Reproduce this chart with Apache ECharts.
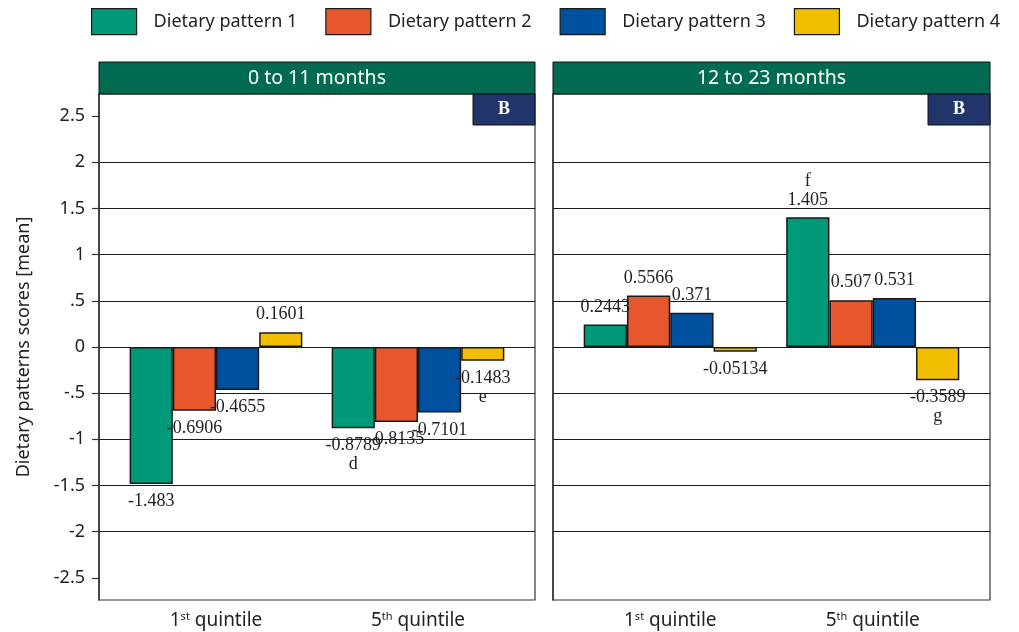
<!DOCTYPE html>
<html><head><meta charset="utf-8">
<script src="https://cdn.jsdelivr.net/npm/echarts@6/dist/echarts.min.js"></script>
<style>html,body{margin:0;padding:0;background:#fff}#c{width:1019px;height:632px}</style>
</head><body><div id="c"></div>
<script>
// ---------- data ----------
const categories = ['1st quintile', '5th quintile'];
const patterns = ['Dietary pattern 1', 'Dietary pattern 2', 'Dietary pattern 3', 'Dietary pattern 4'];
const panelTitles = ['0 to 11 months', '12 to 23 months'];
const panelBadges = ['B', 'B'];
// 0 to 11 months: values for [1st quintile, 5th quintile]
const young1 = [-1.483, -0.8789];
const young2 = [-0.6906, -0.8135];
const young3 = [-0.4655, -0.7101];
const young4 = [0.1601, -0.1483];
// 12 to 23 months
const old1 = [0.2443, 1.405];
const old2 = [0.5566, 0.507];
const old3 = [0.371, 0.531];
const old4 = [-0.05134, -0.3589];
// significance letters
const youngLetters1 = ['', 'd'];
const youngLetters4 = ['', 'e'];
const oldLetters1 = ['', 'f'];
const oldLetters4 = ['', 'g'];
const noLetters = ['', ''];
// y axis ticks
const yTickValues = [-2.5, -2, -1.5, -1, -0.5, 0, 0.5, 1, 1.5, 2, 2.5];
const yTickLabels = ['-2.5', '-2', '-1.5', '-1', '-.5', '0', '.5', '1', '1.5', '2', '2.5'];
const yMin = -2.74, yMax = 2.74;
const yName = 'Dietary patterns scores [mean]';

// ---------- styling / layout ----------
const colors = ['#009A7A', '#E8562E', '#0050A0', '#F2BE00'];
const SANS = '"Noto Sans", "Open Sans", sans-serif';
const SERIF = '"Liberation Serif", "DejaVu Serif", serif';
const panelLeft = [99, 553];
const panelWidth = [436, 437];
const plotTop = 94, plotHeight = 506, innerPad = 16, headerTop = 62;

const panelValues = [[young1, young2, young3, young4], [old1, old2, old3, old4]];
const panelLetters = [[youngLetters1, noLetters, noLetters, youngLetters4], [oldLetters1, noLetters, noLetters, oldLetters4]];

const grids = [], xAxes = [], yAxes = [], series = [], graphics = [];
for (let p = 0; p < 2; p++) {
  const L = panelLeft[p], W = panelWidth[p];
  grids.push({ left: L, top: plotTop, width: W, height: plotHeight, show: true,
    borderColor: '#333', borderWidth: 1.2, backgroundColor: '#fff' });
  grids.push({ left: L + innerPad, top: plotTop, width: W - 2 * innerPad, height: plotHeight });
  // frame axes
  xAxes.push({ gridIndex: 2 * p, type: 'category', data: categories, show: false });
  yAxes.push({
    gridIndex: 2 * p, type: 'value', min: yMin, max: yMax,
    name: p === 0 ? yName : '', nameLocation: 'middle', nameGap: 66,
    nameTextStyle: { fontSize: 18, color: '#222', fontFamily: SANS },
    axisLine: { show: true, lineStyle: { color: '#333', width: 1.5 } },
    axisTick: { show: p === 0, length: 7, customValues: yTickValues, lineStyle: { color: '#333', width: 1.2 } },
    axisLabel: { show: p === 0, customValues: yTickValues, margin: 14, fontSize: 18, color: '#222', fontFamily: SANS,
      formatter: v => { const i = yTickValues.findIndex(t => Math.abs(t - v) < 1e-9); return i >= 0 ? yTickLabels[i] : ''; } },
    splitLine: { show: true, lineStyle: { width: 1, color: yTickValues.map(v => Math.abs(v) > 2.2 ? 'rgba(0,0,0,0)' : '#1a1a1a') } }
  });
  // bar axes
  xAxes.push({ gridIndex: 2 * p + 1, type: 'category', data: categories,
    axisLine: { show: false }, axisTick: { show: false },
    axisLabel: { interval: 0, hideOverlap: false, margin: 11, color: '#222', fontSize: 19, fontFamily: SANS,
      formatter: v => v.replace(/^(\d)(st|nd|rd|th) /, '$1{sup|$2} '),
      rich: { sup: { fontSize: 11, fontFamily: SANS, color: '#222', verticalAlign: 'top', lineHeight: 12 } } } });
  yAxes.push({ gridIndex: 2 * p + 1, type: 'value', min: yMin, max: yMax, show: false });

  for (let k = 0; k < 4; k++) {
    const vals = panelValues[p][k], lets = panelLetters[p][k];
    series.push({
      type: 'bar', name: patterns[k], xAxisIndex: 2 * p + 1, yAxisIndex: 2 * p + 1,
      barGap: '0%', barCategoryGap: '14.5%',
      itemStyle: { color: colors[k], borderColor: '#1a1a1a', borderWidth: 1.5 },
      label: { show: true, fontFamily: SERIF, fontSize: 18, color: '#222', lineHeight: 19, distance: 8 },
      data: vals.map((v, j) => {
        const letter = lets[j];
        const txt = String(v);
        const pos = v >= 0 ? 'top' : 'bottom';
        const f = letter ? (v >= 0 ? letter + '\n' + txt : txt + '\n' + letter) : txt;
        return { value: v, label: { position: pos, formatter: f } };
      })
    });
  }
  // header strip
  graphics.push({ type: 'rect', z: 100, shape: { x: L, y: headerTop, width: W, height: plotTop - headerTop },
    style: { fill: '#006B50', stroke: '#111', lineWidth: 1 } });
  graphics.push({ type: 'text', z: 101, x: L + W / 2, y: (headerTop + plotTop) / 2,
    style: { text: panelTitles[p], fill: '#fff', font: '19.5px ' + SANS,
      textAlign: 'center', textVerticalAlign: 'middle', align: 'center', verticalAlign: 'middle' } });
  // badge
  graphics.push({ type: 'rect', z: 100, shape: { x: L + W - 62, y: plotTop, width: 62, height: 31 },
    style: { fill: '#22356B', stroke: '#111', lineWidth: 1 } });
  graphics.push({ type: 'text', z: 101, x: L + W - 31, y: plotTop + 15.5,
    style: { text: panelBadges[p], fill: '#fff', font: 'bold 18px ' + SERIF,
      textAlign: 'center', textVerticalAlign: 'middle', align: 'center', verticalAlign: 'middle' } });
}

const chart = echarts.init(document.getElementById('c'), null, { renderer: 'canvas' });
chart.setOption({
  animation: false,
  backgroundColor: '#fff',
  legend: { data: patterns, top: 3, left: 86, icon: 'rect', itemWidth: 45, itemHeight: 26, itemGap: 28,
    itemStyle: { borderColor: '#1a1a1a', borderWidth: 1.2 },
    textStyle: { fontSize: 18, color: '#222', fontFamily: SANS, padding: [0, 0, 0, 12] } },
  grid: grids, xAxis: xAxes, yAxis: yAxes, series: series, graphic: graphics
});
</script></body></html>
